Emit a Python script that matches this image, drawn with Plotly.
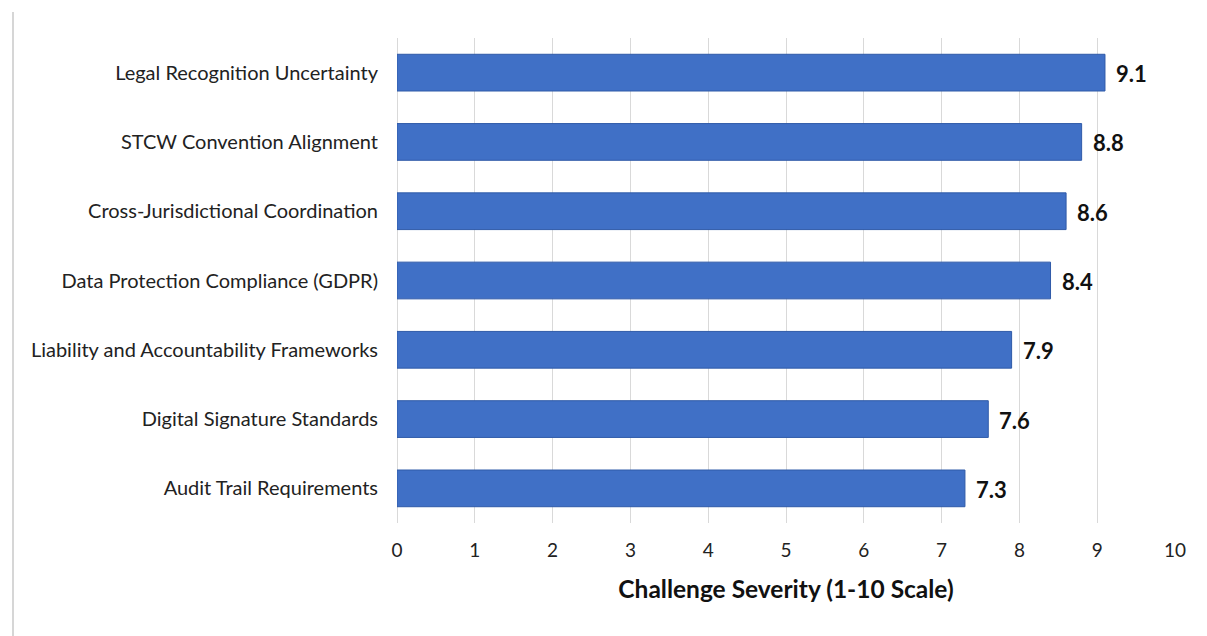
import plotly.graph_objects as go

# Regulatory challenge categories and their severity scores (1-10 scale)
challenges = [
    "Legal Recognition Uncertainty",
    "STCW Convention Alignment",
    "Cross-Jurisdictional Coordination",
    "Data Protection Compliance (GDPR)",
    "Liability and Accountability Frameworks",
    "Digital Signature Standards",
    "Audit Trail Requirements",
]
severity = [9.1, 8.8, 8.6, 8.4, 7.9, 7.6, 7.3]
x_ticks = list(range(0, 11))

W, H = 1207, 636
L, R, T, B = 397, 32, 38, 113

fig = go.Figure()
fig.add_trace(go.Bar(
    y=challenges,
    x=severity,
    orientation="h",
    width=0.53,
    marker=dict(color="#4070c6", line=dict(color="#2f5aa8", width=1)),
))

# value labels placed just past the end of each bar
for name, val in zip(challenges, severity):
    fig.add_annotation(
        x=val, y=name, xref="x", yref="y",
        text=f"{val:.1f}", showarrow=False,
        xanchor="left", yanchor="middle", xshift=9, yshift=-1,
        font=dict(family="Lato, sans-serif", size=22, color="#111111", weight="bold"),
    )

# thin frame line on the left edge of the chart area
fig.add_shape(
    type="line", xref="paper", yref="paper",
    x0=(13 - L) / (W - L - R), x1=(13 - L) / (W - L - R),
    y0=-(B) / (H - T - B), y1=1 + (T - 12) / (H - T - B),
    line=dict(color="#d6d6d6", width=2),
)

fig.update_layout(
    width=W, height=H,
    margin=dict(l=L, r=R, t=T, b=B),
    paper_bgcolor="white",
    plot_bgcolor="white",
    showlegend=False,
    font=dict(family="Lato, sans-serif", color="#222222"),
    xaxis=dict(
        range=[0, 10],
        tickvals=x_ticks,
        ticktext=[str(v) for v in x_ticks],
        showgrid=True,
        gridcolor="#d9d9d9",
        gridwidth=1,
        zeroline=True,
        zerolinecolor="#d9d9d9",
        zerolinewidth=1,
        showline=False,
        ticks="",
        ticklabelstandoff=14,
        tickfont=dict(size=19, color="#222222"),
        title=dict(
            text="Challenge Severity (1-10 Scale)",
            font=dict(size=24.5, color="#111111", weight="bold"),
            standoff=20,
        ),
    ),
    yaxis=dict(
        categoryorder="array",
        categoryarray=challenges[::-1],
        range=[-0.5, 6.5],
        showgrid=False,
        showline=False,
        ticks="",
        ticklabelstandoff=18,
        tickfont=dict(size=20, color="#222222"),
    ),
)

fig.write_html("out.html")
